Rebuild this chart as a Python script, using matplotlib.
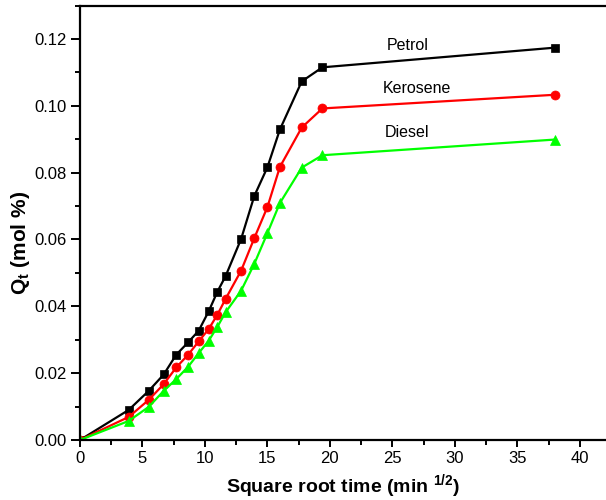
import matplotlib.pyplot as plt
from matplotlib.ticker import MultipleLocator, FormatStrFormatter

plt.rcParams['font.family'] = ['Liberation Sans', 'DejaVu Sans']
plt.rcParams['mathtext.fontset'] = 'custom'
plt.rcParams['mathtext.rm'] = 'Liberation Sans'
plt.rcParams['mathtext.bf'] = 'Liberation Sans:bold'
plt.rcParams['mathtext.it'] = 'Liberation Sans:italic'

# square root of time (min^1/2)
sqrt_time = [0, 3.9, 5.5, 6.7, 7.7, 8.65, 9.5, 10.3, 11.0, 11.65, 12.9, 13.95,
             15.0, 16.0, 17.75, 19.4, 38.05]

petrol = [0, 0.0090, 0.0147, 0.0196, 0.0255, 0.0292, 0.0327, 0.0385, 0.0444,
          0.0490, 0.0602, 0.0730, 0.0816, 0.0929, 0.1073, 0.1115, 0.1174]
kerosene = [0, 0.0069, 0.0120, 0.0167, 0.0217, 0.0255, 0.0295, 0.0332, 0.0375,
            0.0422, 0.0507, 0.0604, 0.0697, 0.0817, 0.0935, 0.0992, 0.1033]
diesel = [0, 0.0057, 0.0099, 0.0147, 0.0182, 0.0219, 0.0260, 0.0297, 0.0339,
          0.0382, 0.0447, 0.0527, 0.0619, 0.0709, 0.0815, 0.0852, 0.0899]

series = [
    ('Petrol', petrol, 'black', 's', 6.0, (26.2, 0.1180)),
    ('Kerosene', kerosene, '#ff0000', 'o', 6.5, (27.0, 0.1053)),
    ('Diesel', diesel, '#00ff00', '^', 7.5, (26.2, 0.0920)),
]

fig = plt.figure(figsize=(6.06, 5.0), dpi=100)
ax = fig.add_axes([80 / 606, 60 / 500, 1 - 80 / 606, (440 - 5.5) / 500])

for name, vals, color, marker, ms, (tx, ty) in series:
    ax.plot(sqrt_time, vals, color=color, marker=marker, markersize=ms,
            linewidth=1.6, markeredgewidth=0.5, markeredgecolor=color)
    ax.text(tx, ty, name, fontsize=11.5, ha='center', va='center')

ax.set_xlim(0, 42.1)
ax.set_ylim(0, 0.13)
ax.xaxis.set_major_locator(MultipleLocator(5))
ax.xaxis.set_minor_locator(MultipleLocator(2.5))
ax.yaxis.set_major_locator(MultipleLocator(0.02))
ax.yaxis.set_minor_locator(MultipleLocator(0.01))
ax.yaxis.set_major_formatter(FormatStrFormatter('%.2f'))

ax.spines['right'].set_visible(False)
for s in ['left', 'bottom', 'top']:
    ax.spines[s].set_linewidth(1.6)

ax.tick_params(which='major', direction='out', width=1.4, labelsize=12)
ax.tick_params(axis='y', which='major', length=6.5, pad=3)
ax.tick_params(axis='x', which='major', length=5, pad=3)
ax.tick_params(which='minor', direction='out', width=1.4, length=3.5)

ax.set_xlabel(r'Square root time (min $^{\mathbf{1/2}}$)', fontsize=14,
              fontweight='bold', labelpad=4)
ax.set_ylabel(r'Q$_{\mathbf{t}}$ (mol %)', fontsize=15, fontweight='bold',
              va='center')
ax.yaxis.set_label_coords(-0.114, 0.453)

fig.savefig('out.png', dpi=100)
